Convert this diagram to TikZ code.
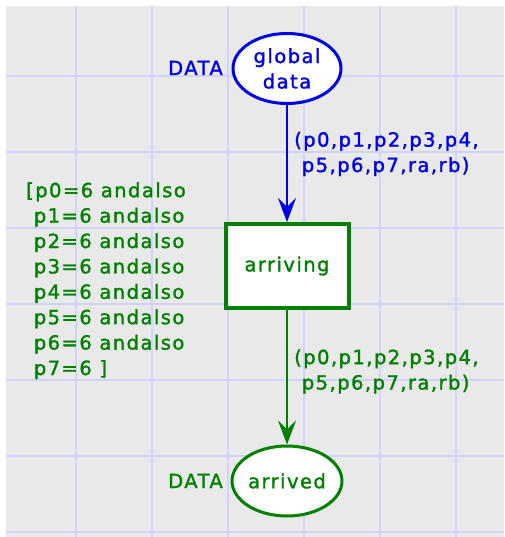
\documentclass[tikz,border=0pt]{standalone}
\usepackage{fontspec}
\usetikzlibrary{shapes.geometric,arrows.meta}
\newfontfamily\cpnfont{DejaVu Sans}[LetterSpace=7.5, FakeBold=1.5]
\definecolor{netblue}{RGB}{0,0,230}
\definecolor{netgreen}{RGB}{0,128,0}
\definecolor{canvas}{RGB}{233,233,233}
\definecolor{gridline}{RGB}{210,210,255}
\begin{document}
\begin{tikzpicture}[x=1pt,y=-1pt,
  every node/.style={font=\cpnfont\fontsize{19.5}{25.4}\selectfont, inner sep=0pt},
  place/.style={ellipse, draw, fill=white, line width=3pt, minimum width=108pt, minimum height=70pt, align=center},
  transition/.style={rectangle, draw, fill=white, line width=4pt, minimum width=123pt, minimum height=84pt},
  netarc/.style={line width=1.3pt, -{Stealth[length=24pt,width=18pt,inset=9pt]}},
  inscription/.style={align=left, anchor=base west}]
\useasboundingbox (0,0) rectangle (504,537);
% canvas and grid
\fill[canvas] (6,6) rectangle (504,537);
\foreach \k in {1,...,6} \draw[gridline, line width=1.5pt] (76*\k,6) -- (76*\k,537);
\foreach \k in {1,...,7} \draw[gridline, line width=1.5pt] (6,76*\k) -- (504,76*\k);

% places and transition
\node[place, draw=netblue, text=netblue] (global) at (287,68.5) {global\\data};
\node[transition, draw=netgreen, text=netgreen] (arriving) at (287,266) {arriving};
\node[place, draw=netgreen, text=netgreen] (arrived) at (287,481) {arrived};

% colour sets
\node[anchor=base east, text=netblue] (globaltype) at (223,75) {DATA};
\node[anchor=base east, text=netgreen] (arrivedtype) at (223,488) {DATA};

% arcs
\draw[netarc, netblue] (global) -- (arriving);
\draw[netarc, netgreen] (arriving) -- (arrived);

% arc inscriptions (anchored on the baseline of their last line)
\node[inscription, text=netblue] (inexpr) at (294,172) {(p0,p1,p2,p3,p4,\\\ p5,p6,p7,ra,rb)};
\node[inscription, text=netgreen] (outexpr) at (294,389.5) {(p0,p1,p2,p3,p4,\\\ p5,p6,p7,ra,rb)};

% guard
\node[inscription, text=netgreen] (guard) at (26,375) {[p0=6 andalso\\\ p1=6 andalso\\\ p2=6 andalso\\\ p3=6 andalso\\\ p4=6 andalso\\\ p5=6 andalso\\\ p6=6 andalso\\\ p7=6 ]};
\end{tikzpicture}
\end{document}
